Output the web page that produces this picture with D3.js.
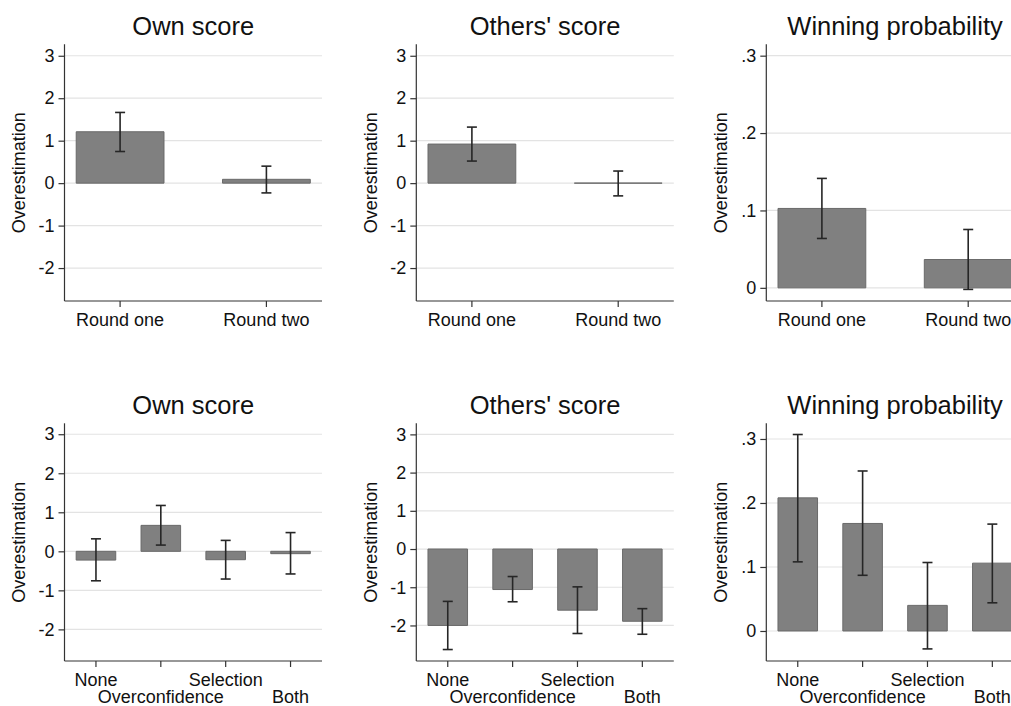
<!DOCTYPE html>
<html><head><meta charset="utf-8">
<script src="https://cdn.jsdelivr.net/npm/d3@7"></script>
<style>
body{margin:0;background:#fff;overflow:hidden;}
svg{display:block;}
text{font-family:"Liberation Sans",Arial,Helvetica,sans-serif;fill:#111;}
</style>
</head><body><svg id="c" width="1011" height="706"></svg>
<script>
// ---- data ----
const topCategories = ["Round one", "Round two"];
const bottomCategories = ["None", "Overconfidence", "Selection", "Both"];
const panelTitles = ["Own score", "Others' score", "Winning probability"];
const yTitle = "Overestimation";
const scoreTicks = [-2, -1, 0, 1, 2, 3];
const scoreTickLabels = ["-2", "-1", "0", "1", "2", "3"];
const probTicks = [0, 0.1, 0.2, 0.3];
const probTickLabels = ["0", ".1", ".2", ".3"];

const ownTopMean = [1.21, 0.09];
const ownTopLo = [0.745, -0.23];
const ownTopHi = [1.665, 0.40];
const othersTopMean = [0.92, 0.0];
const othersTopLo = [0.52, -0.30];
const othersTopHi = [1.32, 0.285];
const winTopMean = [0.1026, 0.0366];
const winTopLo = [0.0638, -0.002];
const winTopHi = [0.1414, 0.0754];

const ownBotMean = [-0.225, 0.665, -0.215, -0.06];
const ownBotLo = [-0.755, 0.16, -0.71, -0.58];
const ownBotHi = [0.32, 1.175, 0.28, 0.48];
const othersBotMean = [-2.00, -1.06, -1.60, -1.89];
const othersBotLo = [-2.63, -1.38, -2.21, -2.23];
const othersBotHi = [-1.37, -0.72, -0.99, -1.56];
const winBotMean = [0.208, 0.168, 0.040, 0.106];
const winBotLo = [0.108, 0.087, -0.028, 0.044];
const winBotHi = [0.307, 0.250, 0.107, 0.167];

// ---- layout ----
const colX = [64.5, 416.3, 766.3];
const plotW = 257.5;
const rowTop = [44.3, 423.3];
const rowBottom = [301, 661];

const panels = [
  {row:0,col:0,cats:topCategories,mean:ownTopMean,lo:ownTopLo,hi:ownTopHi,ticks:scoreTicks,labels:scoreTickLabels,domain:[-2.776,3.27]},
  {row:0,col:1,cats:topCategories,mean:othersTopMean,lo:othersTopLo,hi:othersTopHi,ticks:scoreTicks,labels:scoreTickLabels,domain:[-2.776,3.27]},
  {row:0,col:2,cats:topCategories,mean:winTopMean,lo:winTopLo,hi:winTopHi,ticks:probTicks,labels:probTickLabels,domain:[-0.017,0.3147]},
  {row:1,col:0,cats:bottomCategories,mean:ownBotMean,lo:ownBotLo,hi:ownBotHi,ticks:scoreTicks,labels:scoreTickLabels,domain:[-2.81,3.28]},
  {row:1,col:1,cats:bottomCategories,mean:othersBotMean,lo:othersBotLo,hi:othersBotHi,ticks:scoreTicks,labels:scoreTickLabels,domain:[-2.93,3.29]},
  {row:1,col:2,cats:bottomCategories,mean:winBotMean,lo:winBotLo,hi:winBotHi,ticks:probTicks,labels:probTickLabels,domain:[-0.0469,0.3245]}
];

const svg = d3.select("#c");

panels.forEach(p => {
  const x0 = colX[p.col], y0 = rowTop[p.row], y1 = rowBottom[p.row];
  const g = svg.append("g");
  const n = p.cats.length;
  const x = d3.scaleBand().domain(p.cats).range([x0, x0 + plotW])
    .paddingInner(n === 2 ? 0.40 : 0.39).paddingOuter(n === 2 ? 0.08 : 0.18);
  const y = d3.scaleLinear().domain(p.domain).range([y1, y0]);

  // gridlines
  g.selectAll(".grid").data(p.ticks).enter().append("line")
    .attr("x1", x0).attr("x2", x0 + plotW)
    .attr("y1", d => y(d)).attr("y2", d => y(d))
    .attr("stroke", "#e3e3e3").attr("stroke-width", 1.2);

  // bars
  const data = p.cats.map((c, i) => ({c, m: p.mean[i], lo: p.lo[i], hi: p.hi[i]}));
  g.selectAll(".bar").data(data).enter().append("path")
    .attr("d", d => {
      const a = x(d.c), b = x(d.c) + x.bandwidth();
      const t = y(d.m), z = y(0);
      return `M${a},${z}H${b}V${t}H${a}Z`;
    })
    .attr("fill", "#808080").attr("stroke", "#6a6a6a").attr("stroke-width", 1);

  // error bars
  const cap = 5;
  const eb = g.selectAll(".eb").data(data).enter().append("g");
  eb.append("line")
    .attr("x1", d => x(d.c) + x.bandwidth() / 2).attr("x2", d => x(d.c) + x.bandwidth() / 2)
    .attr("y1", d => y(d.lo)).attr("y2", d => y(d.hi));
  eb.append("line")
    .attr("x1", d => x(d.c) + x.bandwidth() / 2 - cap).attr("x2", d => x(d.c) + x.bandwidth() / 2 + cap)
    .attr("y1", d => y(d.hi)).attr("y2", d => y(d.hi));
  eb.append("line")
    .attr("x1", d => x(d.c) + x.bandwidth() / 2 - cap).attr("x2", d => x(d.c) + x.bandwidth() / 2 + cap)
    .attr("y1", d => y(d.lo)).attr("y2", d => y(d.lo));
  eb.selectAll("line").attr("stroke", "#262626").attr("stroke-width", 1.6);

  // y axis
  const yAxis = d3.axisLeft(y).tickValues(p.ticks).tickSize(6).tickPadding(4)
    .tickFormat((d, i) => p.labels[i]);
  const ya = g.append("g").attr("transform", `translate(${x0},0)`).call(yAxis);
  ya.select(".domain").attr("d", `M0,${y0}V${y1}`);
  // x axis
  const xAxis = d3.axisBottom(x).tickSize(6).tickPadding(4).tickFormat("");
  const xa = g.append("g").attr("transform", `translate(0,${y1})`).call(xAxis);
  xa.select(".domain").attr("d", `M${x0},0H${x0 + plotW}`);
  [ya, xa].forEach(a => {
    a.select(".domain").attr("stroke", "#333").attr("stroke-width", 1.2);
    a.selectAll(".tick line").attr("stroke", "#333").attr("stroke-width", 1.2);
    a.selectAll(".tick text").attr("font-size", 18).attr("fill", "#111")
      .attr("font-family", '"Liberation Sans",Arial,Helvetica,sans-serif');
  });

  // x labels (staggered for 4 categories)
  g.selectAll(".xl").data(p.cats).enter().append("text")
    .attr("x", d => x(d) + x.bandwidth() / 2)
    .attr("y", (d, i) => y1 + (n === 2 ? 25 : (i % 2 === 0 ? 24.7 : 42.3)))
    .attr("text-anchor", "middle").attr("font-size", 18).text(d => d);

  // title
  g.append("text").attr("x", x0 + plotW / 2).attr("y", y0 - 9.3)
    .attr("text-anchor", "middle").attr("font-size", 25.5).text(panelTitles[p.col]);

  // y title
  g.append("text")
    .attr("transform", `translate(${x0 - 39.5},${(y0 + y1) / 2}) rotate(-90)`)
    .attr("text-anchor", "middle").attr("font-size", 18).text(yTitle);
});
</script>
</body></html>
